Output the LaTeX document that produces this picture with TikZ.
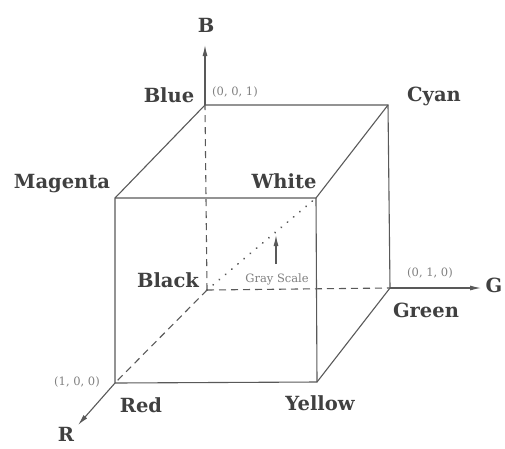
\documentclass[tikz,border=0pt]{standalone}
\usepackage{fontspec}
\setmainfont{DejaVu Serif}
\usetikzlibrary{arrows.meta}
\begin{document}
\begin{tikzpicture}[
		x=1pt, y=-1pt,
		every node/.style={inner sep=0pt, anchor=base},
		colname/.style={font=\fontsize{19.5}{19.5}\selectfont\bfseries, text=black!75},
		coordlabel/.style={font=\fontsize{11.5}{11.5}\selectfont, text=black!50},
		cubeedge/.style={draw=black!65, line width=1.1pt},
		hiddenedge/.style={cubeedge, dash pattern=on 7pt off 5pt},
		grayline/.style={cubeedge, line cap=round, dash pattern=on 0.1pt off 8pt, line width=2pt},
		axisarrow/.style={cubeedge, -{Latex[length=11pt, width=5pt]}}
	]
	\useasboundingbox (0,0) rectangle (505,448);
	\coordinate (black) at (207,290);
	\coordinate (blue) at (205,105);
	\coordinate (cyan) at (388,105);
	\coordinate (green) at (390,288);
	\coordinate (red) at (115,383);
	\coordinate (yellow) at (317,382);
	\coordinate (magenta) at (115,198);
	\coordinate (white) at (316,198);
	\coordinate (Bend) at (205,45);
	\coordinate (Gend) at (481,288);
	\coordinate (Rend) at (78,425);
	\coordinate (grayfoot) at (276,264);
	\coordinate (graytip) at (276,235);

	\draw[hiddenedge] (black) -- (blue);
	\draw[hiddenedge] (black) -- (green);
	\draw[hiddenedge] (black) -- (red);
	\draw[grayline] (black) -- (white);
	\draw[cubeedge] (blue) -- (cyan) -- (green) -- (yellow) -- (red) -- (magenta) -- (blue);
	\draw[cubeedge] (magenta) -- (white) -- (cyan);
	\draw[cubeedge] (white) -- (yellow);
	\draw[axisarrow] (blue) -- (Bend);
	\draw[axisarrow] (green) -- (Gend);
	\draw[axisarrow] (red) -- (Rend);
	\draw[axisarrow] (grayfoot) -- (graytip);

	\node[colname] (Blab) at (206,32) {B};
	\node[colname] (Glab) at (494,292) {G};
	\node[colname] (Rlab) at (66,441) {R};
	\node[colname] (bluelab) at (169,102) {Blue};
	\node[colname] (cyanlab) at (434,101) {Cyan};
	\node[colname] (magentalab) at (62,188) {Magenta};
	\node[colname] (whitelab) at (284,188) {White};
	\node[colname] (blacklab) at (168,287) {Black};
	\node[colname] (greenlab) at (426,317) {Green};
	\node[colname] (yellowlab) at (320,410) {Yellow};
	\node[colname] (redlab) at (141,412) {Red};
	\node[coordlabel] (c001) at (235,95) {(0, 0, 1)};
	\node[coordlabel] (c010) at (430,276) {(0, 1, 0)};
	\node[coordlabel] (c100) at (77,385) {(1, 0, 0)};
	\node[coordlabel] (graylab) at (277,282) {Gray Scale};
\end{tikzpicture}
\end{document}
